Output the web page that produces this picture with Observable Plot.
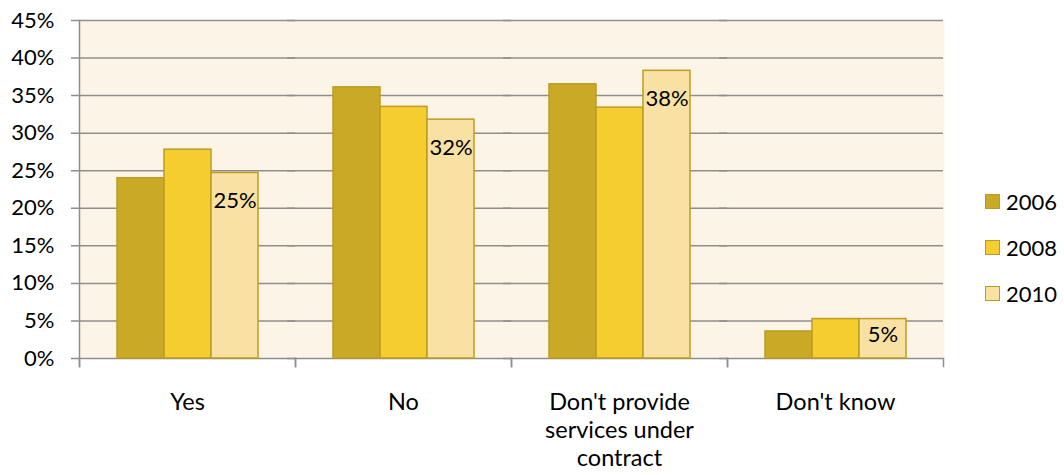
<!DOCTYPE html>
<html>
<head>
<meta charset="utf-8">
<script src="https://cdn.jsdelivr.net/npm/d3@7"></script>
<script src="https://cdn.jsdelivr.net/npm/@observablehq/plot@0.6"></script>
<style>
  html, body { margin: 0; padding: 0; background: #ffffff; }
  #wrap { position: relative; width: 1064px; height: 475px; font-family: Lato, "Open Sans", sans-serif; }
  #legend { position: absolute; left: 985px; top: 178px; }
  .item { display: flex; align-items: center; height: 46px; font-size: 22px; color: #000; }
  .sw { width: 15px; height: 15px; box-sizing: border-box; border: 1.5px solid #B99A25; margin-right: 6px; }
</style>
</head>
<body>
<div id="wrap"></div>
<script>
const categories = ["Yes", "No", "Don't provide services under contract", "Don't know"];
const tickLabels = ["Yes", "No", "Don't provide\nservices under\ncontract", "Don't know"];
const years = ["2006", "2008", "2010"];
const values2006 = [24.0, 36.1, 36.5, 3.6];
const values2008 = [27.8, 33.5, 33.4, 5.25];
const values2010 = [24.7, 31.8, 38.3, 5.25];
const yTicks = [0, 5, 10, 15, 20, 25, 30, 35, 40, 45];
const colors = ["#C9A926", "#F5CD2F", "#F9E0A3"];

const series = {"2006": values2006, "2008": values2008, "2010": values2010};
const data = [];
for (const y of years) categories.forEach((c, i) => data.push({category: c, year: y, value: series[y][i]}));
const labelData = data.filter(d => d.year === "2010");
const labelMap = new Map(categories.map((c, i) => [c, tickLabels[i]]));

const grey = "#8E8E8E";
const plot = Plot.plot({
  width: 1064,
  height: 475,
  marginTop: 20,
  marginBottom: 117,
  marginLeft: 78,
  marginRight: 120,
  style: {fontFamily: "Lato, 'Open Sans', sans-serif", fontSize: "22px", color: "#000", background: "transparent"},
  fx: {domain: categories, padding: 0, label: null, axis: null},
  x: {domain: years, paddingInner: 0, paddingOuter: 0.755, axis: null},
  y: {domain: [0, 45], label: null, axis: null},
  color: {domain: years, range: colors},
  marks: [
    Plot.frame({fill: "#FDF4E8", stroke: "none", insetRight: -1}),
    Plot.ruleY(yTicks, {y: d => d, stroke: grey, strokeWidth: 1.5, insetLeft: -8}),
    Plot.frame({anchor: "left", fx: () => categories[0], stroke: grey, strokeWidth: 1.5, insetBottom: -8}),
    Plot.frame({anchor: "left", stroke: grey, strokeWidth: 1.5, insetTop: 338, insetBottom: -8}),
    Plot.frame({anchor: "right", stroke: grey, strokeWidth: 1.5, insetTop: 338, insetBottom: -8}),
    Plot.barY(data, {fx: "category", x: "year", y: "value", fill: "year", stroke: "#BC9C22", strokeWidth: 1.5}),
    Plot.text(labelData.filter(d => d.value >= 10), {fx: "category", x: "year", y: "value", text: d => Math.round(d.value) + "%", dy: 28, fontSize: 22, fill: "#000"}),
    Plot.text(labelData.filter(d => d.value < 10), {fx: "category", x: "year", y: "value", text: d => Math.round(d.value) + "%", dy: 16, fontSize: 22, fill: "#000"}),
    Plot.axisY({ticks: yTicks, tickSize: 0, tickPadding: 25, tickFormat: d => d + "%", fontSize: 22, label: null}),
    Plot.axisFx({anchor: "bottom", tickSize: 0, tickPadding: 31, tickFormat: d => labelMap.get(d), fontSize: 23.5, lineHeight: 1.2, label: null})
  ]
});
const wrap = document.getElementById("wrap");
wrap.appendChild(plot);
const legend = document.createElement("div");
legend.id = "legend";
years.forEach((y, i) => {
  const item = document.createElement("div");
  item.className = "item";
  const sw = document.createElement("div");
  sw.className = "sw";
  sw.style.background = colors[i];
  const t = document.createElement("span");
  t.textContent = y;
  item.appendChild(sw);
  item.appendChild(t);
  legend.appendChild(item);
});
wrap.appendChild(legend);
</script>
</body>
</html>
